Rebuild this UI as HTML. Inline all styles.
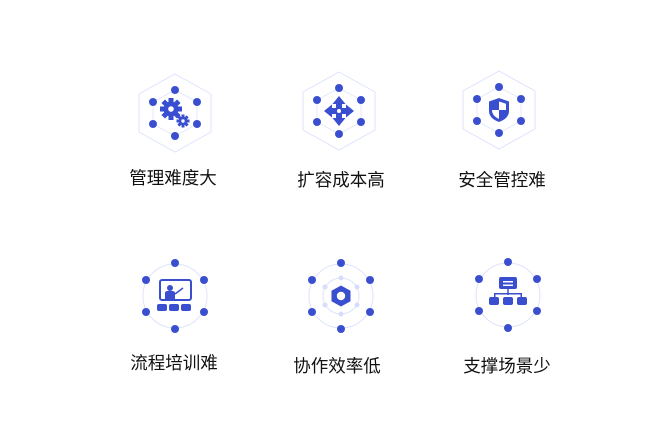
<!DOCTYPE html>
<html><head><meta charset="utf-8"><style>
html,body{margin:0;padding:0;background:#fff;}
svg{display:block}
text{font-family:"Liberation Sans","Noto Sans CJK SC",sans-serif;font-size:17.5px;fill:#111;text-anchor:middle}
</style></head><body>
<svg width="672" height="441" viewBox="0 0 672 441" xmlns="http://www.w3.org/2000/svg">
<defs>
<g id="hexdots">
  <polygon points="0,-39 36,-19 36,19 0,39 -36,19 -36,-19" fill="none" stroke="#dfe3fb" stroke-width="1"/>
  <polygon points="0,-23 22,-11 22,11 0,23 -22,11 -22,-11" fill="none" stroke="#e6e9fb" stroke-width="1"/>
  <g fill="#3a4fd0">
    <circle cx="0" cy="-23" r="4"/><circle cx="0" cy="23" r="4"/>
    <circle cx="-22" cy="-11" r="4"/><circle cx="22" cy="-11" r="4"/>
    <circle cx="-22" cy="11" r="4"/><circle cx="22" cy="11" r="4"/>
  </g>
</g>
<g id="circdots">
  <circle r="32" fill="none" stroke="#dfe3fb" stroke-width="1"/>
  <g fill="#3a4fd0">
    <circle cx="0" cy="-33" r="4"/><circle cx="0" cy="33" r="4"/>
    <circle cx="-29" cy="-16" r="4"/><circle cx="29" cy="-16" r="4"/>
    <circle cx="-29" cy="16" r="4"/><circle cx="29" cy="16" r="4"/>
  </g>
</g>
</defs>

<g transform="translate(175,113)">
  <use href="#hexdots"/>
  <g fill="#3a4fd0">
    <circle cx="-4" cy="-4" r="7.5"/>
    <g transform="translate(-4,-4)">
      <rect x="-2.5" y="-11" width="5" height="22"/><rect x="-11" y="-2.5" width="22" height="5"/>
      <rect x="-2.5" y="-11" width="5" height="22" transform="rotate(45)"/><rect x="-2.5" y="-11" width="5" height="22" transform="rotate(-45)"/>
    </g>
    <circle cx="-4" cy="-4" r="2.8" fill="#fff"/>
    <circle cx="8" cy="8" r="4.2"/>
    <g transform="translate(8,8)">
      <rect x="-1.5" y="-6.5" width="3" height="13"/><rect x="-6.5" y="-1.5" width="13" height="3"/>
      <rect x="-1.5" y="-6.5" width="3" height="13" transform="rotate(45)"/><rect x="-1.5" y="-6.5" width="3" height="13" transform="rotate(-45)"/>
    </g>
    <circle cx="8" cy="8" r="1.7" fill="#fff"/>
  </g>
</g>
<text x="173" y="184">管理难度大</text>

<g transform="translate(339,111)">
  <use href="#hexdots"/>
  <g fill="#3a4fd0">
    <rect x="-3" y="-10" width="6" height="20"/><rect x="-10" y="-3" width="20" height="6"/>
    <polygon points="0,-15 -6.5,-7 6.5,-7"/><polygon points="0,15 -6.5,7 6.5,7"/>
    <polygon points="-15,0 -7,-6.5 -7,6.5"/><polygon points="15,0 7,-6.5 7,6.5"/>
    <circle r="2" fill="#fff"/>
  </g>
</g>
<text x="341" y="186">扩容成本高</text>

<g transform="translate(499,110)">
  <use href="#hexdots"/>
  <path d="M0,-12 L10,-8.5 L10,1 C10,6.5 5.5,10 0,12 C-5.5,10 -10,6.5 -10,1 L-10,-8.5 Z" fill="#3a4fd0"/>
  <path d="M0,-8.5 L7,-6.3 L7,0 L0,0 Z" fill="#fff"/>
  <path d="M0,0 L-7,0 C-7,4.5 -4,7 0,9 Z" fill="#fff"/>
</g>
<text x="502" y="186">安全管控难</text>

<g transform="translate(175,296)">
  <use href="#circdots"/>
  <g fill="#3a4fd0">
    <rect x="-15" y="-16" width="31" height="20" rx="2" fill="none" stroke="#3a4fd0" stroke-width="2"/>
    <circle cx="-5" cy="-8" r="3"/>
    <path d="M-10,3 L-10,-3 Q-10,-5 -7,-5 L-3,-5 Q0,-5 0,-3 L0,3 Z"/>
    <line x1="0" y1="-2" x2="8" y2="-8" stroke="#3a4fd0" stroke-width="1.5"/>
    <rect x="-18" y="8" width="10" height="7" rx="2"/>
    <rect x="-6" y="8" width="10" height="7" rx="2"/>
    <rect x="6" y="8" width="10" height="7" rx="2"/>
  </g>
</g>
<text x="174" y="369">流程培训难</text>

<g transform="translate(341,296)">
  <use href="#circdots"/>
  <circle r="18" fill="none" stroke="#dfe3fb" stroke-width="1"/>
  <g fill="#d7dcf8">
    <circle cx="0" cy="-18" r="2.5"/><circle cx="0" cy="18" r="2.5"/>
    <circle cx="-16" cy="-9" r="2.5"/><circle cx="16" cy="-9" r="2.5"/>
    <circle cx="-16" cy="9" r="2.5"/><circle cx="16" cy="9" r="2.5"/>
  </g>
  <polygon points="0,-10.5 9.5,-5.25 9.5,5.25 0,10.5 -9.5,5.25 -9.5,-5.25" fill="#3a4fd0"/>
  <circle r="4.2" fill="#fff"/>
</g>
<text x="337" y="372">协作效率低</text>

<g transform="translate(508,295)">
  <use href="#circdots"/>
  <g fill="#3a4fd0">
    <rect x="-9" y="-18" width="18" height="12" rx="2"/>
    <rect x="-5" y="-14" width="10" height="1.5" fill="#fff"/>
    <rect x="-5" y="-10.5" width="10" height="1.5" fill="#fff"/>
    <rect x="-0.75" y="-6" width="1.5" height="6"/>
    <rect x="-14" y="-2" width="28" height="1.5"/>
    <rect x="-14" y="-2" width="1.5" height="4"/><rect x="12.5" y="-2" width="1.5" height="4"/>
    <rect x="-19" y="2" width="10" height="8" rx="2"/>
    <rect x="-5" y="2" width="10" height="8" rx="2"/>
    <rect x="9" y="2" width="10" height="8" rx="2"/>
  </g>
</g>
<text x="507" y="372">支撑场景少</text>
</svg>
</body></html>
